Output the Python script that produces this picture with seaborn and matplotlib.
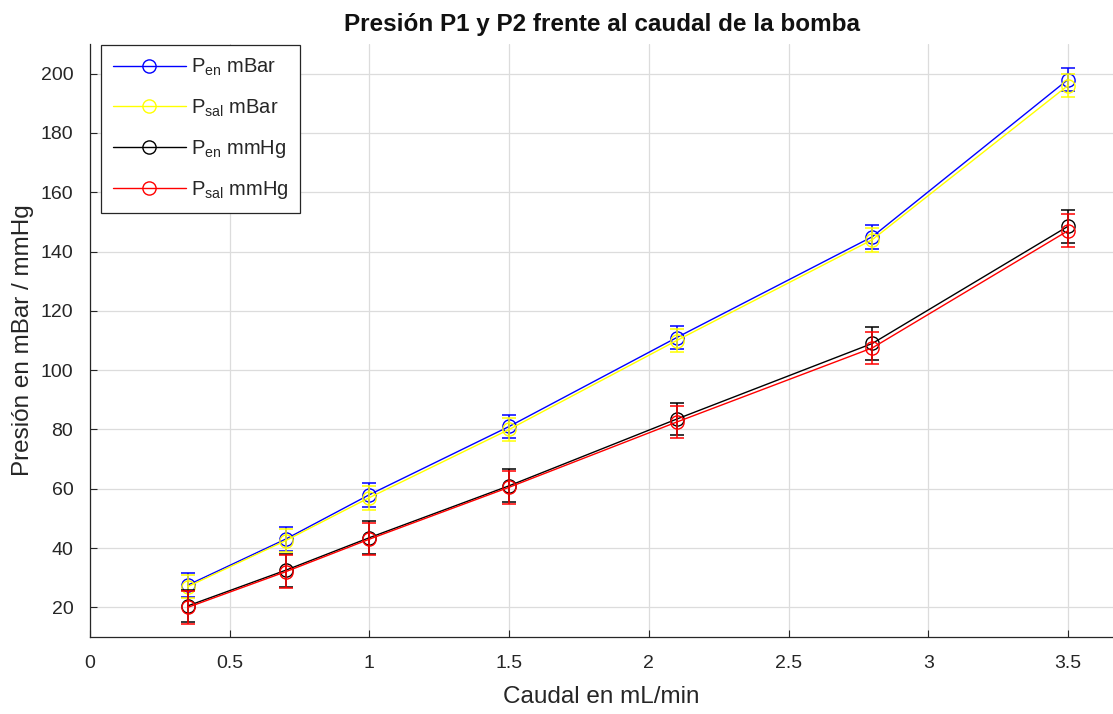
import numpy as np
import pandas as pd
import matplotlib
matplotlib.use("Agg")
import matplotlib.pyplot as plt
import seaborn as sns
from matplotlib.lines import Line2D

# Flow rate of the pump (mL/min)
caudal = [0.35, 0.7, 1.0, 1.5, 2.1, 2.8, 3.5]

# Measured pressures
p_en_mbar = [27.5, 43, 58, 81, 111, 145, 198]
p_sal_mbar = [27, 42.5, 57, 80, 110, 144, 196]
p_en_mmhg = [20.5, 32.5, 43.5, 61, 83.5, 109, 148.5]
p_sal_mmhg = [20, 32, 43, 60.5, 82.5, 107.5, 147]

# Measurement uncertainty of each series
err_mbar = 4
err_mmhg = 5.5

series_names = [r"P$_{en}$ mBar", r"P$_{sal}$ mBar", r"P$_{en}$ mmHg", r"P$_{sal}$ mmHg"]
series_vals = [p_en_mbar, p_sal_mbar, p_en_mmhg, p_sal_mmhg]
series_err = [err_mbar, err_mbar, err_mmhg, err_mmhg]
series_colors = ["#0000ff", "#ffff00", "#000000", "#ff0000"]

x_ticks = [0, 0.5, 1, 1.5, 2, 2.5, 3, 3.5]
x_ticklabels = ["0", "0.5", "1", "1.5", "2", "2.5", "3", "3.5"]
y_ticks = [20, 40, 60, 80, 100, 120, 140, 160, 180, 200]

sns.set_theme(style="white")
plt.rcParams["font.family"] = ["Liberation Sans", "DejaVu Sans"]
plt.rcParams["mathtext.fontset"] = "custom"
plt.rcParams["mathtext.rm"] = "Liberation Sans"
plt.rcParams["mathtext.it"] = "Liberation Sans"
plt.rcParams["mathtext.default"] = "regular"

df = pd.concat(
    [pd.DataFrame({"caudal": caudal, "presion": v, "serie": n, "err": e})
     for n, v, e in zip(series_names, series_vals, series_err)],
    ignore_index=True,
)

fig = plt.figure(figsize=(11.13, 7.14), dpi=100)
fig.patch.set_facecolor("white")
ax = fig.add_axes([90 / 1113, 1 - 637 / 714, 1 - 90 / 1113, (637 - 44) / 714])

for name, color in zip(series_names, series_colors):
    sub = df[df["serie"] == name]
    sns.lineplot(data=sub, x="caudal", y="presion", ax=ax, color=color,
                 linewidth=1.0, marker="o", markersize=9.5,
                 markerfacecolor="none", markeredgecolor=color,
                 markeredgewidth=1.0, legend=False, zorder=3)
    ax.errorbar(sub["caudal"], sub["presion"], yerr=sub["err"], fmt="none",
                ecolor=color, elinewidth=1.1, capsize=5, capthick=1.1, zorder=3)

ax.set_xlim(0, (1113 - 90) / 279.4)
ax.set_ylim(10, 210)
ax.set_xticks(x_ticks)
ax.set_xticklabels(x_ticklabels)
ax.set_yticks(y_ticks)
ax.grid(True, color="#dcdcdc", linewidth=0.9)
ax.set_axisbelow(True)
ax.set_facecolor("white")
for side in ["top", "right"]:
    ax.spines[side].set_visible(False)
for side in ["left", "bottom"]:
    ax.spines[side].set_color("#262626")
    ax.spines[side].set_linewidth(0.9)
ax.tick_params(axis="both", direction="in", length=5, width=0.8,
               colors="#262626", labelsize=14, labelcolor="#262626",
               bottom=True, left=True)
ax.tick_params(axis="x", pad=13)
ax.tick_params(axis="y", pad=12)

ax.set_xlabel("Caudal en mL/min", fontsize=17.5, color="#262626", labelpad=10)
ax.set_ylabel("Presión en mBar / mmHg", fontsize=17.5, color="#262626", labelpad=5)
ax.set_title("Presión P1 y P2 frente al caudal de la bomba", fontsize=17.5,
             fontweight="bold", color="#111111", pad=9)

handles = [Line2D([0], [0], color=c, linewidth=1.0, marker="o", markersize=9.5,
                  markerfacecolor="none", markeredgecolor=c)
           for c in series_colors]
leg = ax.legend(handles, series_names, loc="upper left",
                bbox_to_anchor=(11 / 1023, 1 - 1 / 593), borderaxespad=0,
                fontsize=14.5, frameon=True, fancybox=False, framealpha=1,
                edgecolor="#262626", handlelength=3.6, handletextpad=0.25,
                labelspacing=0.95, borderpad=0.6)
leg.get_frame().set_linewidth(0.9)

fig.savefig("out.png", dpi=100, facecolor="white")
